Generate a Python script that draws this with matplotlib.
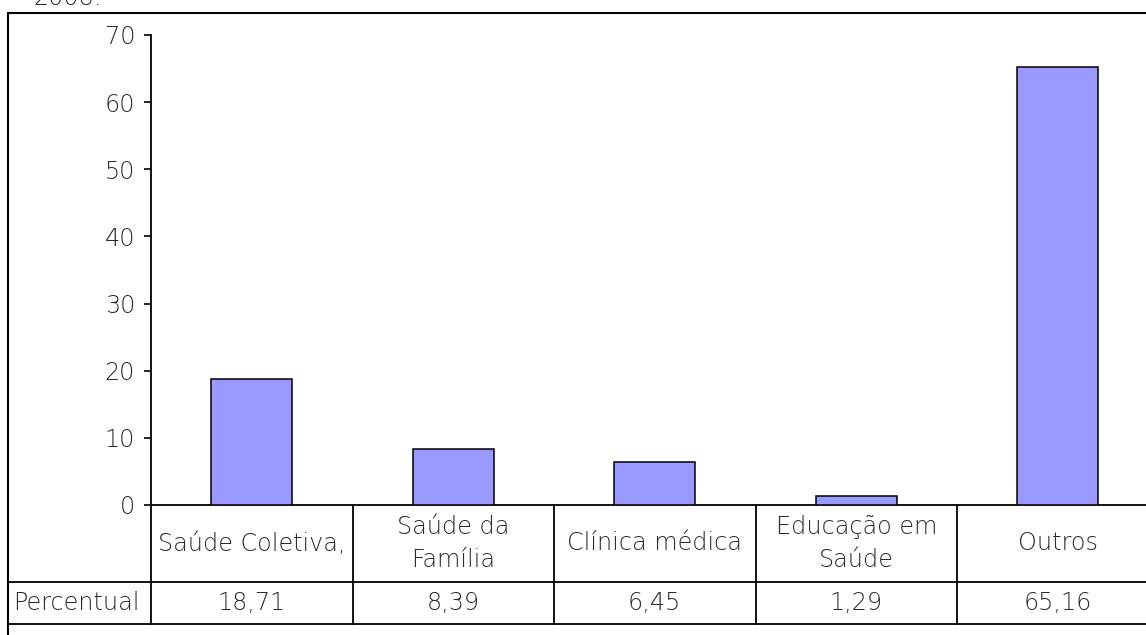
import matplotlib
matplotlib.use("Agg")
import matplotlib.pyplot as plt
from matplotlib.patches import Rectangle
import matplotlib.transforms as mtransforms

categories = ["Saúde Coletiva,", "Saúde da\nFamília", "Clínica médica", "Educação em\nSaúde", "Outros"]
values = [18.71, 8.39, 6.45, 1.29, 65.16]
row_label = "Percentual"
yticks = [0, 10, 20, 30, 40, 50, 60, 70]
top_text = "2008."

plt.rcParams['font.family'] = ['DejaVu Sans']
plt.rcParams['font.weight'] = 200
FS = 17.2
TXT = '#2a2a2a'

W, H = 1146, 635
fig = plt.figure(figsize=(W / 100, H / 100), dpi=100)

# axes placement in pixels
left_px, right_px, top_px, bottom_px = 151, 1158.5, 35, 505
ax = fig.add_axes([left_px / W, 1 - bottom_px / H, (right_px - left_px) / W, (bottom_px - top_px) / H])

x = list(range(len(values)))
ax.bar(x, values, width=0.4, color='#9999FF', edgecolor='black', linewidth=1.1, zorder=3)
ax.set_xlim(-0.5, len(values) - 0.5)
ax.set_ylim(0, 70)
ax.set_yticks(yticks)
ax.set_yticklabels([str(t) for t in yticks], fontsize=FS, color=TXT, fontweight=200)
ax.tick_params(axis='y', direction='out', length=5, width=1.2, pad=6.5)
ax.set_xticks([])
for s in ['top', 'right']:
    ax.spines[s].set_visible(False)
ax.spines['left'].set_linewidth(1.3)
ax.spines['bottom'].set_linewidth(1.3)

# table beneath axes
ah = bottom_px - top_px
r1 = -77 / ah
r2 = -119 / ah
blend = mtransforms.blended_transform_factory(ax.transData, ax.transAxes)
lw = 1.3
n = len(values)
for i in range(n + 1):
    ax.plot([i - 0.5, i - 0.5], [0, r2], transform=blend, color='black', lw=lw, clip_on=False)
frame_left = 8 / W
for yy in [r1, r2]:
    y_fig = fig.transFigure.inverted().transform(ax.transAxes.transform((0, yy)))[1]
    fig.add_artist(plt.Line2D([frame_left, 1.05], [y_fig, y_fig], color='black', lw=lw))

for i, (c, v) in enumerate(zip(categories, values)):
    ax.text(i, r1 / 2, c, transform=blend, ha='center', va='center', fontsize=FS,
            color=TXT, linespacing=1.45, fontweight=200)
    ax.text(i, (r1 + r2) / 2, f"{v:.2f}".replace('.', ','), transform=blend,
            ha='center', va='center', fontsize=FS, color=TXT, fontweight=200)

y_mid = fig.transFigure.inverted().transform(ax.transAxes.transform((0, (r1 + r2) / 2)))[1]
fig.text(13 / W, y_mid, row_label, ha='left', va='center', fontsize=FS, color=TXT, fontweight=200)

# outer chart frame (clipped by figure edges)
frame_top = 1 - 13 / H
fig.add_artist(Rectangle((frame_left, -0.2), 2, frame_top + 0.2, transform=fig.transFigure,
                         fill=False, edgecolor='black', lw=1.5))

fig.text(33 / W, 1 - 5 / H, top_text, ha='left', va='baseline', fontsize=FS, color=TXT, fontweight=200)

fig.savefig('out.png', dpi=100)
